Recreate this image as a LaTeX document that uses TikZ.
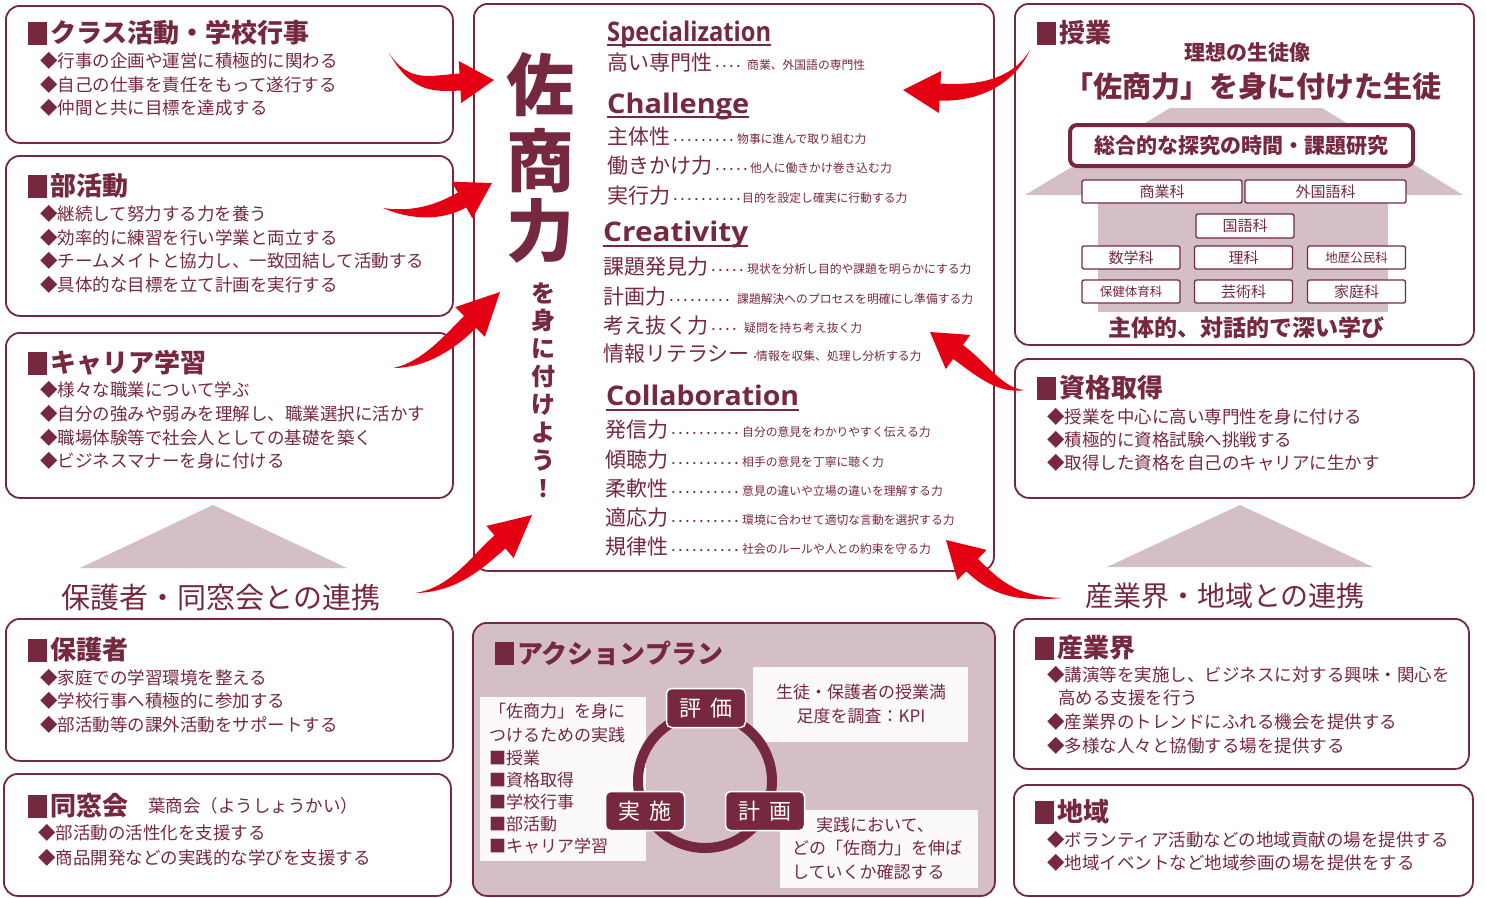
\documentclass[tikz,border=0pt]{standalone}
\usepackage{graphicx}
\usepackage{fontspec}
\setmainfont{Noto Sans CJK JP}
\newfontfamily\headfont{Open Sans}
\usetikzlibrary{calc}
\definecolor{wine}{RGB}{118,40,62}
\definecolor{mauve}{RGB}{213,191,198}
\definecolor{ared}{RGB}{228,0,18}
\newcommand\fs[1]{\fontsize{#1}{#1}\selectfont}
\tikzset{
  every node/.style={inner sep=0pt, text=wine},
  frame/.style={draw=wine, line width=1.8pt, rounded corners=14pt, fill=white, anchor=north west},
  ttl/.style={anchor=west, font=\fs{26}\bfseries},
  itm/.style={anchor=west, font=\fs{17.5}},
  lab/.style={anchor=west, font=\fs{21}},
  dsc/.style={anchor=west, font=\fs{11.8}},
  dotline/.style={draw=wine, line width=2.4pt, line cap=round, dash pattern=on 0pt off 7pt},
  head/.style={anchor=base west, font=\headfont\bfseries\fs{27}},
  uline/.style={draw=wine, line width=2.6pt},
  subj/.style={draw=wine, line width=1.3pt, fill=white, rounded corners=2pt, font=\fs{15}},
  cyc/.style={fill=wine, draw=white, line width=1.5pt, rounded corners=5pt, text=white, font=\fs{22}, minimum width=79pt, minimum height=39pt},
  wbox/.style={fill=white, fill opacity=0.92, anchor=north west},
}
% section title with square marker
\newcommand\sect[4]{\fill[wine] (#2,#3-11) rectangle (#2+19,#3+12); \node[ttl] (#1) at (#2+22,#3) {#4};}
% list of lines
\newcommand\items[3]{\foreach \ya/\yb [count=\i] in {#3} {\node[itm] (#1-\i) at (#2,\ya) {\yb};}}
% center row: name, x, y, label, desc x, desc
\newcommand\crow[6]{%
  \node[lab] (#1) at (#2,#3) {#4};
  \node[dsc] (#1d) at (#5,#3+2) {#6};
  \draw[dotline] ([xshift=5pt,yshift=-3pt]#1.east) -- ([xshift=-3pt,yshift=-1pt]#1d.west);
}
% red swoosh arrow: tail, control, base centre, tip
\newcommand\swoosh[4]{%
  \coordinate (swD) at ($(#3)!-28pt!(#4)$);
  \fill[ared] (#1) .. controls ($(#2)!4pt!90:(swD)$) and ($(swD)!8.5pt!90:(#3)$) .. ($(#3)!8.5pt!90:(#4)$)
    -- ($(#3)!21pt!90:(#4)$) -- (#4) -- ($(#3)!21pt!-90:(#4)$) -- ($(#3)!8.5pt!-90:(#4)$)
    .. controls ($(swD)!8.5pt!-90:(#3)$) and ($(#2)!4pt!-90:(swD)$) .. (#1) -- cycle;
}
\begin{document}
\begin{tikzpicture}[x=1pt, y=-1pt]
\useasboundingbox (0,0) rectangle (1486,897);
\fill[white] (0,0) rectangle (1486,897);

% ---------- left column ----------
\node[frame, minimum width=447pt, minimum height=137pt] (boxA) at (5,5) {};
\sect{tA}{28}{33}{クラス活動・学校行事}
\items{iA}{40}{61/{◆行事の企画や運営に積極的に関わる},85/{◆自己の仕事を責任をもって遂行する},108/{◆仲間と共に目標を達成する}}

\node[frame, minimum width=447pt, minimum height=160pt] (boxB) at (5,155) {};
\sect{tB}{28}{186}{部活動}
\items{iB}{40}{214/{◆継続して努力する力を養う},238/{◆効率的に練習を行い学業と両立する},261/{◆チームメイトと協力し、一致団結して活動する},285/{◆具体的な目標を立て計画を実行する}}

\node[frame, minimum width=447pt, minimum height=165pt] (boxC) at (5,332) {};
\sect{tC}{28}{363}{キャリア学習}
\items{iC}{40}{390/{◆様々な職業について学ぶ},414/{◆自分の強みや弱みを理解し、職業選択に活かす},438/{◆職場体験等で社会人としての基礎を築く},461/{◆ビジネスマナーを身に付ける}}

\fill[mauve] (213,505) -- (347,568) -- (80,568) -- cycle;
\node[font=\fs{29}] (renkeiL) at (221,598) {保護者・同窓会との連携};

\node[frame, minimum width=447pt, minimum height=142pt] (boxD) at (5,618) {};
\sect{tD}{28}{650}{保護者}
\items{iD}{40}{678/{◆家庭での学習環境を整える},701/{◆学校行事へ積極的に参加する},725/{◆部活動等の課外活動をサポートする}}

\node[frame, minimum width=447pt, minimum height=122pt] (boxE) at (3,773) {};
\sect{tE}{28}{806}{同窓会}
\node[anchor=west, font=\fs{17.5}] (yosho) at (148,806) {葉商会（ようしょうかい）};
\items{iE}{38}{833/{◆部活動の活性化を支援する},858/{◆商品開発などの実践的な学びを支援する}}

% ---------- center ----------
\node[frame, minimum width=520pt, minimum height=567pt] (center) at (473,3) {};
\node[font=\fs{68}\bfseries] (sa) at (540,85) {佐};
\node[font=\fs{68}\bfseries] (sho) at (540,161) {商};
\node[font=\fs{68}\bfseries] (ryoku) at (540,231) {力};
\node[font=\fontsize{24}{27.9}\selectfont\bfseries, align=center] (mini) at (543,390) {を\\身\\に\\付\\け\\よ\\う\\！};

\node[head] (hS) at (607,41) {\resizebox{164pt}{\height}{Specialization}};
\draw[uline] ([yshift=-4pt]hS.base west) -- ([yshift=-4pt]hS.base east);
\crow{r1}{607}{63}{高い専門性}{747}{商業、外国語の専門性}

\node[head] (hCh) at (607,113) {\resizebox{142pt}{\height}{Challenge}};
\draw[uline] ([yshift=-4pt]hCh.base west) -- ([yshift=-4pt]hCh.base east);
\crow{r2}{607}{137}{主体性}{737}{物事に進んで取り組む力}
\crow{r3}{607}{166}{働きかけ力}{750}{他人に働きかけ巻き込む力}
\crow{r4}{607}{196}{実行力}{742}{目的を設定し確実に行動する力}

\node[head] (hCr) at (603,241) {\resizebox{145pt}{\height}{Creativity}};
\draw[uline] ([yshift=-5pt]hCr.base west) -- ([yshift=-5pt]hCr.base east);
\crow{r5}{603}{267}{課題発見力}{747}{現状を分析し目的や課題を明らかにする力}
\crow{r6}{603}{297}{計画力}{737}{課題解決へのプロセスを明確にし準備する力}
\crow{r7}{603}{326}{考え抜く力}{744}{疑問を持ち考え抜く力}
\crow{r8}{603}{354}{情報リテラシー}{756}{情報を収集、処理し分析する力}

\node[head] (hCo) at (606,405) {\resizebox{193pt}{\height}{Collaboration}};
\draw[uline] ([yshift=-5pt]hCo.base west) -- ([yshift=-5pt]hCo.base east);
\crow{r9}{605}{430}{発信力}{742}{自分の意見をわかりやすく伝える力}
\crow{r10}{605}{460}{傾聴力}{742}{相手の意見を丁寧に聴く力}
\crow{r11}{605}{489}{柔軟性}{742}{意見の違いや立場の違いを理解する力}
\crow{r12}{605}{518}{適応力}{742}{環境に合わせて適切な言動を選択する力}
\crow{r13}{605}{547}{規律性}{742}{社会のルールや人との約束を守る力}

% ---------- right column ----------
\node[frame, minimum width=459pt, minimum height=341pt] (boxF) at (1014,3) {};
\fill[mauve] (1025,195) -- (1170,108) -- (1322,108) -- (1463,195) -- cycle;
\fill[mauve] (1098,195) rectangle (1388,312);
\sect{tF}{1037}{33}{授業}
\node[font=\fs{21}\bfseries] (ideal) at (1247,53) {理想の生徒像};
\node[font=\fs{29}\bfseries] (ideal2) at (1253,87) {「佐商力」を身に付けた生徒};
\node[draw=wine, line width=4pt, rounded corners=7pt, fill=white, minimum width=343pt, minimum height=41pt, font=\fs{21}\bfseries] (sogo) at (1241.5,145.5) {総合的な探究の時間・課題研究};
\node[subj, minimum width=160pt, minimum height=23pt] (s1) at (1162,191.5) {商業科};
\node[subj, minimum width=161pt, minimum height=23pt] (s2) at (1325.5,191.5) {外国語科};
\node[subj, minimum width=98pt, minimum height=24pt] (s3) at (1245,226) {国語科};
\node[subj, minimum width=98pt, minimum height=23pt] (s4) at (1131,257.5) {数学科};
\node[subj, minimum width=98pt, minimum height=23pt] (s5) at (1243.5,257.5) {理科};
\node[subj, minimum width=98pt, minimum height=23pt, font=\fs{12.5}] (s6) at (1356.5,257.5) {地歴公民科};
\node[subj, minimum width=98pt, minimum height=23pt, font=\fs{12.5}] (s7) at (1131,291.5) {保健体育科};
\node[subj, minimum width=98pt, minimum height=23pt] (s8) at (1243.5,291.5) {芸術科};
\node[subj, minimum width=98pt, minimum height=23pt] (s9) at (1356.5,291.5) {家庭科};
\node[font=\fs{23}\bfseries] (deep) at (1246,328) {主体的、対話的で深い学び};

\node[frame, minimum width=459pt, minimum height=139pt] (boxG) at (1014,358) {};
\sect{tG}{1037}{388}{資格取得}
\items{iG}{1047}{417/{◆授業を中心に高い専門性を身に付ける},440/{◆積極的に資格試験へ挑戦する},463/{◆取得した資格を自己のキャリアに生かす}}

\fill[mauve] (1240,505) -- (1373,567) -- (1107,567) -- cycle;
\node[font=\fs{28}] (renkeiR) at (1225,596) {産業界・地域との連携};

\node[frame, minimum width=455pt, minimum height=150pt] (boxH) at (1013,618) {};
\sect{tH}{1035}{648}{産業界}
\items{iH}{1047}{675/{◆講演等を実施し、ビジネスに対する興味・関心を},722/{◆産業界のトレンドにふれる機会を提供する},746/{◆多様な人々と協働する場を提供する}}
\node[itm] (iH-c) at (1058,698) {高める支援を行う};

\node[frame, minimum width=459pt, minimum height=111pt] (boxI) at (1013,784) {};
\sect{tI}{1035}{812}{地域}
\items{iI}{1047}{840/{◆ボランティア活動などの地域貢献の場を提供する},863/{◆地域イベントなど地域参画の場を提供をする}}

% ---------- action plan ----------
\node[frame, fill=mauve, minimum width=522pt, minimum height=273pt] (ap) at (472,622) {};
\sect{tJ}{495}{653}{アクションプラン}
\node[wbox, minimum width=166pt, minimum height=164pt] (wl) at (480,697) {};
\node[wbox, minimum width=215pt, minimum height=75pt] (wtr) at (753,667) {};
\node[wbox, minimum width=198pt, minimum height=78pt] (wbr) at (780,810) {};
\foreach \ya/\yb [count=\i] in {711/{「佐商力」を身に},735/{つけるための実践},758/{■授業},780/{■資格取得},802/{■学校行事},824/{■部活動},846/{■キャリア学習}}
  {\node[anchor=west, font=\fs{17}] (ap-\i) at (489,\ya) {\yb};}
\node[font=\fs{17}] (kpi1) at (861,692) {生徒・保護者の授業満};
\node[font=\fs{17}] (kpi2) at (861,716) {足度を調査：KPI};
\node[font=\fs{17}] (chk1) at (875,825) {実践において、};
\node[anchor=west, font=\fs{17}] (chk2) at (792,848) {どの「佐商力」を伸ば};
\node[anchor=west, font=\fs{17}] (chk3) at (792,872) {していくか確認する};
\node[circle, draw=wine, line width=10pt, minimum size=134pt] (ring) at (705,781) {};
\node[cyc] (hyoka) at (706,708) {評\hspace{0.4em}価};
\node[cyc] (jisshi) at (645,811) {実\hspace{0.4em}施};
\node[cyc] (keikaku) at (765,811) {計\hspace{0.4em}画};

% ---------- red arrows ----------
\coordinate (a1t) at (389,53);   \coordinate (a1c) at (410,88);  \coordinate (a1e) at (460,82);  \coordinate (a1p) at (494,80);
\coordinate (a2t) at (383,208);  \coordinate (a2c) at (410,216); \coordinate (a2e) at (462,200); \coordinate (a2p) at (492,183);
\coordinate (a3t) at (393,368);  \coordinate (a3c) at (425,365); \coordinate (a3e) at (470,322); \coordinate (a3p) at (500,292);
\coordinate (a4t) at (415,593);  \coordinate (a4c) at (455,590); \coordinate (a4e) at (500,542); \coordinate (a4p) at (532,515);
\coordinate (a5t) at (1030,50);  \coordinate (a5c) at (1010,88); \coordinate (a5e) at (940,92);  \coordinate (a5p) at (903,90);
\coordinate (a6t) at (1025,390); \coordinate (a6c) at (1000,392);\coordinate (a6e) at (958,352); \coordinate (a6p) at (930,332);
\coordinate (a7t) at (1062,598); \coordinate (a7c) at (1012,600);\coordinate (a7e) at (972,565); \coordinate (a7p) at (946,540);
\swoosh{a1t}{a1c}{a1e}{a1p}
\swoosh{a2t}{a2c}{a2e}{a2p}
\swoosh{a3t}{a3c}{a3e}{a3p}
\swoosh{a4t}{a4c}{a4e}{a4p}
\swoosh{a5t}{a5c}{a5e}{a5p}
\swoosh{a6t}{a6c}{a6e}{a6p}
\swoosh{a7t}{a7c}{a7e}{a7p}
\end{tikzpicture}
\end{document}
